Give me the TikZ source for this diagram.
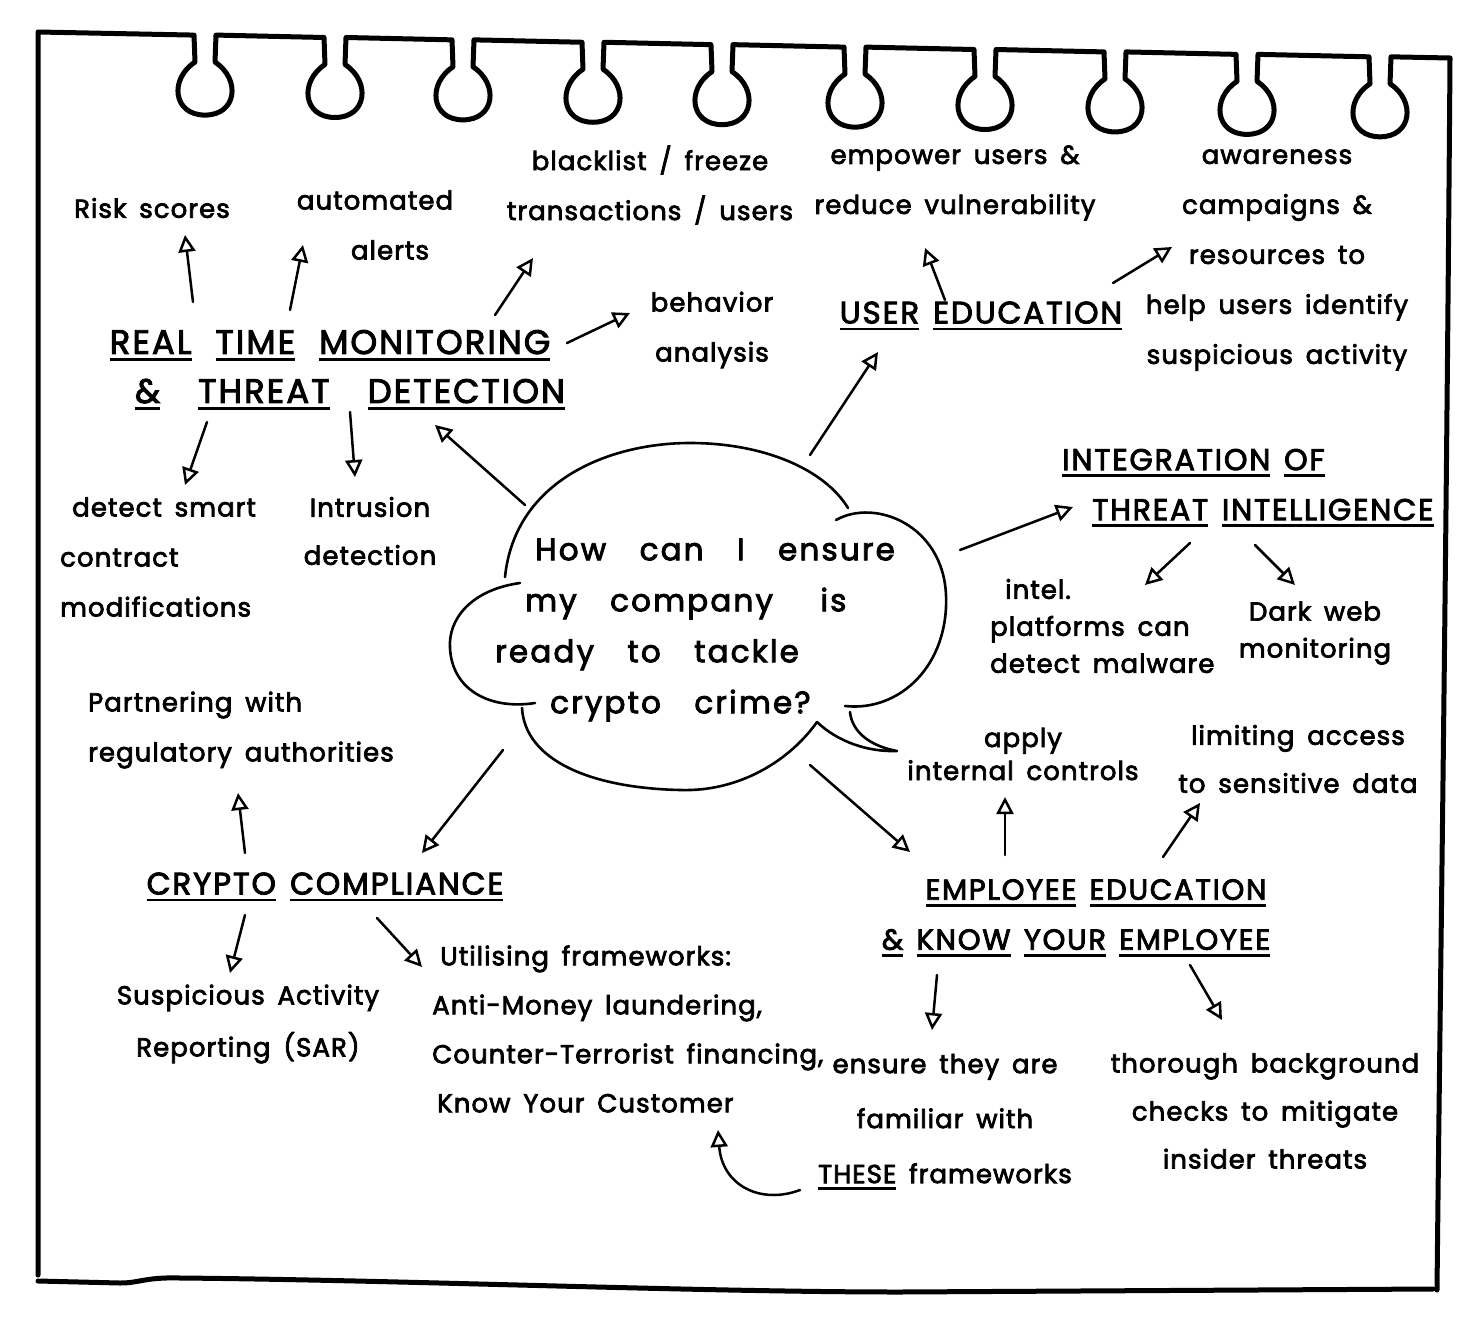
\documentclass[tikz,border=0pt]{standalone}
\usepackage{fontspec}
\usetikzlibrary{arrows.meta,calc}
\newfontfamily\hand[LetterSpace=4,WordSpace=1.6,FakeBold=2.8]{Poppins}
\newfontfamily\handq[LetterSpace=7,WordSpace=3.2,FakeBold=2.8]{Poppins}
\newfontfamily\handcap[LetterSpace=6,WordSpace=1.4,FakeBold=2.8]{Poppins}
\newcommand\uw[1]{\setbox0=\hbox{#1}\rlap{\rule[-7pt]{\wd0}{2.8pt}}\box0\relax}
\begin{document}
\begin{tikzpicture}[x=1pt,y=-1pt,
  body/.style={font=\hand\fontsize{26}{#1}\selectfont, align=center, inner sep=0pt},
  body/.default=50,
  head/.style={font=\handcap\fontsize{31}{49}\selectfont, align=center, inner sep=0pt},
  qtext/.style={font=\handq\fontsize{31}{51}\selectfont, align=left, inner sep=0pt},
  frame/.style={line width=5pt, line cap=round, line join=round},
  cloudline/.style={line width=2.6pt, line cap=round, line join=round},
  arr/.style={line width=2.5pt, line cap=round, -{Triangle[open,length=17pt,width=17pt]}}]
\useasboundingbox (0,0) rectangle (1480,1338);
\fill[white] (0,0) rectangle (1480,1338);

% notebook frame with binder rings
\draw[frame] (38,1275) -- (38,32)
  \foreach \c [evaluate=\c as \t using {32+(\c-38)*0.0185}] in {205,335,463,593,722,855,985,1115,1247,1380} {
    -- (\c-11,\t) -- (\c-10,\t+27) .. controls (\c-36,\t+44) and (\c-32,\t+80) .. (\c,\t+80)
    .. controls (\c+32,\t+80) and (\c+36,\t+44) .. (\c+10,\t+27) -- (\c+11,\t)
  } -- (1450,58) .. controls (1446,600) and (1440,1000) .. (1437,1290);
\draw[frame] (38,1281) -- (120,1283) .. controls (140,1283) and (145,1277) .. (180,1278)
  .. controls (400,1280) and (700,1292) .. (900,1292) -- (1433,1289);

% central cloud
\node[qtext, anchor=west] (q) at (495,630) {\hspace{40pt}How can I ensure\\\hspace{30pt}my company\hspace{14pt} is\\ready to tackle\\\hspace{55pt}crypto crime?};
\draw[cloudline] (505,577) .. controls (515,480) and (610,443) .. (690,443)
  .. controls (765,443) and (825,470) .. (848,508);
\draw[cloudline] (836,520) .. controls (875,498) and (943,525) .. (946,595)
  .. controls (949,665) and (900,712) .. (845,706);
\draw[cloudline] (850,712) .. controls (852,732) and (870,746) .. (897,751)
  .. controls (868,752) and (838,742) .. (817,722);
\draw[cloudline] (817,722) .. controls (790,760) and (740,792) .. (680,790)
  .. controls (590,788) and (525,760) .. (522,708);
\draw[cloudline] (520,583) .. controls (470,590) and (448,620) .. (450,648)
  .. controls (452,690) and (490,710) .. (535,703);

% real time monitoring cluster
\node[head, font=\handcap\fontsize{34}{49}\selectfont] (rtm) at (330,370) {\uw{REAL}\hspace{24pt}\uw{TIME}\hspace{24pt}\uw{MONITORING}\\\hspace{40pt}\uw{\&}\hspace{38pt}\uw{THREAT}\hspace{38pt}\uw{DETECTION}};
\node[body] (risk) at (152,208) {Risk scores};
\node[body] (auto) at (375,225) {automated\\\hspace{30pt}alerts};
\node[body] (black) at (650,185) {blacklist / freeze\\transactions / users};
\node[body] (behav) at (712,330) {behavior\\analysis};
\node[body, align=left, anchor=west] (detect) at (60,557) {\hspace{12pt}detect smart\\contract\\modifications};
\node[body=48] (intr) at (370,531) {Intrusion\\detection};

% user education cluster
\node[body] (empower) at (955,183) {empower users \&\\reduce vulnerability};
\node[body] (aware) at (1277,260) {awareness\\campaigns \&\\resources to\\help users identify\\suspicious activity};
\node[head] (usered) at (981,316) {\uw{USER}\hspace{14pt}\uw{EDUCATION}};

% threat intelligence cluster
\node[head, font=\handcap\fontsize{30}{50}\selectfont, align=left, anchor=west] (integ) at (1062,488) {\uw{INTEGRATION} \uw{OF}\\\hspace{30pt}\uw{THREAT} \uw{INTELLIGENCE}};
\node[body=37, align=left, anchor=west] (intel) at (990,626) {\hspace{15pt}intel.\\platforms can\\detect malware};
\node[body=37] (dark) at (1315,633) {Dark web\\monitoring};

% employee education cluster
\node[body=33] (apply) at (1023,754) {apply\\internal controls};
\node[body=48] (limit) at (1298,759) {limiting access\\to sensitive data};
\node[head, font=\handcap\fontsize{29}{50}\selectfont] (emp) at (1076,918) {\hspace{40pt}\uw{EMPLOYEE} \uw{EDUCATION}\\\uw{\&} \uw{KNOW} \uw{YOUR} \uw{EMPLOYEE}};
\node[body=55] (ensure) at (945,1122) {ensure they are\\familiar with\\\uw{THESE} frameworks};
\node[body=48] (thorough) at (1265,1111) {thorough background\\checks to mitigate\\insider threats};

% compliance cluster
\node[body, align=left, anchor=west] (partner) at (88,730) {Partnering with\\regulatory authorities};
\node[head] (cc) at (325,887) {\uw{CRYPTO} \uw{COMPLIANCE}};
\node[body=52] (sar) at (248,1024) {Suspicious Activity\\Reporting (SAR)};
\node[body=49, align=left, anchor=west] (util) at (432,1029) {\hspace{8pt}Utilising frameworks:\\Anti-Money laundering,\\Counter-Terrorist financing,\\\hspace{5pt}Know Your Customer};

% connectors
\draw[arr] ($(q.west)+(30,-125)$) -- ($(rtm)+(105,55)$);
\draw[arr] ($(q.west)+(315,-175)$) -- ($(usered)+(-103,36)$);
\draw[arr] ($(q.west)+(465,-80)$) -- ($(integ.west)+(11,19)$);
\draw[arr] ($(q.west)+(315,135)$) -- ($(emp)+(-166,-66)$);
\draw[arr] ($(q.west)+(8,120)$) -- ($(cc)+(97,-34)$);

\draw[arr] ($(rtm)+(-137,-68)$) -- ($(risk)+(33,27)$);
\draw[arr] ($(rtm)+(-40,-60)$) -- ($(auto)+(-72,20)$);
\draw[arr] ($(rtm)+(165,-55)$) -- ($(black)+(-117,73)$);
\draw[arr] ($(rtm)+(237,-27)$) -- ($(behav)+(-82,-17)$);
\draw[arr] ($(rtm)+(-123,52)$) -- ($(detect.west)+(125,-72)$);
\draw[arr] ($(rtm)+(20,42)$) -- ($(intr)+(-15,-54)$);

\draw[arr] ($(usered)+(-36,-16)$) -- ($(empower)+(-30,65)$);
\draw[arr] ($(usered)+(132,-33)$) -- ($(aware)+(-105,-13)$);

\draw[arr] ($(integ.west)+(128,55)$) -- ($(intel.west)+(155,-41)$);
\draw[arr] ($(integ.west)+(193,57)$) -- ($(dark)+(-20,-48)$);

\draw[arr] ($(emp)+(-71,-63)$) -- ($(apply)+(-18,43)$);
\draw[arr] ($(emp)+(87,-61)$) -- ($(limit)+(-98,44)$);
\draw[arr] ($(emp)+(-139,57)$) -- ($(ensure)+(-13,-92)$);
\draw[arr] ($(emp)+(114,47)$) -- ($(thorough)+(-43,-91)$);

\draw[arr] ($(cc)+(-80,-34)$) -- ($(partner.west)+(150,63)$);
\draw[arr] ($(cc)+(-80,28)$) -- ($(sar)+(-18,-51)$);
\draw[arr] ($(cc)+(52,31)$) -- ($(util.west)+(-10,-62)$);

\draw[arr] ($(ensure)+(-145,68)$) .. controls (760,1205) and (722,1185) .. ($(util.west)+(286,101)$);
\end{tikzpicture}
\end{document}
